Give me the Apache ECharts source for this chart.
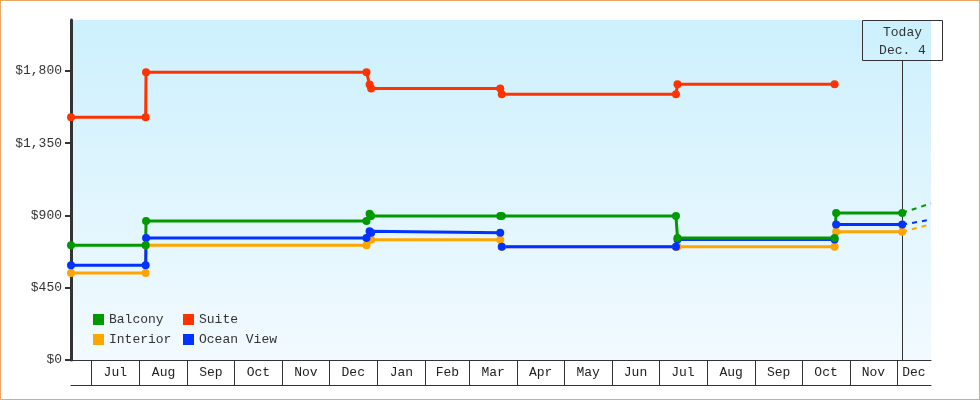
<!DOCTYPE html>
<html><head><meta charset="utf-8">
<script src="https://cdn.jsdelivr.net/npm/echarts@6/dist/echarts.min.js"></script>
<style>
html,body{margin:0;padding:0;background:#fff}
#wrap{position:relative;width:980px;height:400px}
#c{width:980px;height:400px}
#f{position:absolute;left:0;top:0;width:980px;height:400px;box-sizing:border-box;border:1px solid #eba865;pointer-events:none}
</style>
</head><body><div id="wrap"><div id="c"></div><div id="f"></div></div>
<script>
const FONT = '"Liberation Mono", monospace';

const AXIS_START = '2013-06-18';
const AXIS_END = '2014-12-23';
const TODAY = '2014-12-04 12:00';
const TODAY_LABEL = 'Today\nDec. 4';

const MONTH_STARTS = ['2013-07-01','2013-08-01','2013-09-01','2013-10-01','2013-11-01','2013-12-01',
  '2014-01-01','2014-02-01','2014-03-01','2014-04-01','2014-05-01','2014-06-01',
  '2014-07-01','2014-08-01','2014-09-01','2014-10-01','2014-11-01','2014-12-01'];
const MONTH_LABELS = ['Jul','Aug','Sep','Oct','Nov','Dec','Jan','Feb','Mar','Apr','May','Jun',
  'Jul','Aug','Sep','Oct','Nov','Dec'];

const Y_TICKS = [0, 450, 900, 1350, 1800];
const Y_MAX = 2117;

const BALCONY_DATES = ['2013-06-18','2013-08-05','2013-08-05 06:00','2013-12-25','2013-12-27','2013-12-28',
  '2014-03-21','2014-03-22','2014-07-12','2014-07-13','2014-10-22','2014-10-23','2014-12-04 12:00'];
const BALCONY_VALUES = [714, 714, 866, 866, 911, 896, 896, 896, 896, 760, 760, 916, 916];

const SUITE_DATES = ['2013-06-18','2013-08-05','2013-08-05 06:00','2013-12-25','2013-12-27','2013-12-28',
  '2014-03-21','2014-03-22','2014-07-12','2014-07-13','2014-10-22'];
const SUITE_VALUES = [1512, 1512, 1792, 1792, 1716, 1691, 1691, 1655, 1655, 1717, 1717];

const INTERIOR_DATES = ['2013-06-18','2013-08-05','2013-08-05 06:00','2013-12-25','2013-12-28',
  '2014-03-21','2014-03-22','2014-07-12','2014-07-13','2014-10-22','2014-10-23','2014-12-04 12:00'];
const INTERIOR_VALUES = [541, 541, 714, 714, 748, 748, 705, 705, 705, 705, 798, 798];

const OCEAN_DATES = ['2013-06-18','2013-08-05','2013-08-05 06:00','2013-12-25','2013-12-27','2013-12-28',
  '2014-03-21','2014-03-22','2014-07-12','2014-07-13','2014-10-22','2014-10-23','2014-12-04 12:00'];
const OCEAN_VALUES = [590, 590, 760, 760, 801, 792, 792, 705, 705, 750, 750, 843, 843];

const FORECAST_DATES = ['2014-12-04 12:00', '2014-12-23'];
const BALCONY_FORECAST = [916, 975];
const INTERIOR_FORECAST = [798, 846];
const OCEAN_FORECAST = [843, 874];

const COLORS = {Balcony:'#009900', Suite:'#ff3300', Interior:'#ffa500', 'Ocean View':'#0033ff'};

function ts(s){
  const parts = s.split(' ');
  const d = parts[0].split('-').map(Number);
  let h = 0, mi = 0;
  if (parts[1]) { const t = parts[1].split(':').map(Number); h = t[0]; mi = t[1]; }
  return new Date(d[0], d[1]-1, d[2], h, mi).getTime();
}
function pairs(dates, vals){ return dates.map((d,i)=>[ts(d), vals[i]]); }

const monthTicks = MONTH_STARTS.map(ts);
const labelCenters = MONTH_STARTS.map((s,i)=>{
  const a = ts(s);
  const b = i + 1 < MONTH_STARTS.length ? ts(MONTH_STARTS[i+1]) : ts(AXIS_END);
  return Math.round((a+b)/2);
});
function labelFor(v){
  let best = -1, bd = Infinity;
  labelCenters.forEach((c,i)=>{ const d = Math.abs(c - v); if (d < bd) { bd = d; best = i; } });
  return bd < 86400000 ? MONTH_LABELS[best] : '';
}

function lineSeries(name, dates, vals){
  const color = COLORS[name];
  return {name, type:'line', data: pairs(dates, vals), symbol:'circle', symbolSize:8,
    lineStyle:{width:3, color}, itemStyle:{color}, color, z:3, animation:false};
}
function forecastSeries(name, vals){
  const color = COLORS[name];
  return {name: name + ' forecast', type:'line', data: pairs(FORECAST_DATES, vals), symbol:'none',
    lineStyle:{width:2, color, type:[5,5]}, itemStyle:{color}, z:2, animation:false, silent:true};
}

const chart = echarts.init(document.getElementById('c'), null, {renderer:'canvas'});
const legendText = {fontFamily: FONT, fontSize: 13, color: '#333'};
chart.setOption({
  animation: false,
  grid: {left: 71, right: 49, top: 20, bottom: 40, show: true, borderWidth: 0,
    backgroundColor: new echarts.graphic.LinearGradient(0,0,0,1,[{offset:0,color:'#ccf0fd'},{offset:1,color:'#f2faff'}])},
  xAxis: [{
    type: 'value', min: ts(AXIS_START), max: ts(AXIS_END), scale: true,
    axisLine: {show:true, onZero:false, lineStyle:{color:'#333', width:1}},
    axisTick: {show:true, customValues: monthTicks, length: 25, inside:false, lineStyle:{color:'#333', width:1}},
    axisLabel: {show:true, customValues: labelCenters, margin: 6, color:'#222', fontFamily: FONT, fontSize: 13,
      formatter: v => labelFor(v)},
    splitLine: {show:false}
  }, {
    type: 'value', min: ts(AXIS_START), max: ts(AXIS_END), scale: true, position: 'bottom', offset: 25,
    axisLine: {show:true, onZero:false, lineStyle:{color:'#333', width:1}},
    axisTick: {show:false}, axisLabel: {show:false}, splitLine: {show:false}
  }],
  yAxis: {
    type: 'value', min: 0, max: Y_MAX,
    axisLine: {show:true, lineStyle:{color:'#333', width:3}},
    axisTick: {show:true, customValues: Y_TICKS, length: 6, lineStyle:{color:'#333', width:2}},
    axisLabel: {customValues: Y_TICKS, margin: 9, color:'#333', fontFamily: FONT, fontSize: 13,
      formatter: v => '$' + Number(v).toLocaleString('en-US')},
    splitLine: {show:false}
  },
  legend: [
    {orient:'vertical', left: 93, top: 313, padding: 0, itemWidth: 11, itemHeight: 11, itemGap: 7, icon: 'rect',
      selectedMode: false, data: ['Balcony', 'Interior'], textStyle: legendText},
    {orient:'vertical', left: 183, top: 313, padding: 0, itemWidth: 11, itemHeight: 11, itemGap: 7, icon: 'rect',
      selectedMode: false, data: ['Suite', 'Ocean View'], textStyle: legendText}
  ],
  series: [
    forecastSeries('Interior', INTERIOR_FORECAST),
    forecastSeries('Ocean View', OCEAN_FORECAST),
    forecastSeries('Balcony', BALCONY_FORECAST),
    lineSeries('Interior', INTERIOR_DATES, INTERIOR_VALUES),
    lineSeries('Ocean View', OCEAN_DATES, OCEAN_VALUES),
    lineSeries('Balcony', BALCONY_DATES, BALCONY_VALUES),
    lineSeries('Suite', SUITE_DATES, SUITE_VALUES)
  ]
});

const xp = Math.round(chart.convertToPixel({xAxisIndex:0}, ts(TODAY))) + 0.5;
const y0 = chart.convertToPixel({yAxisIndex:0}, 0);
const yTop = Math.round(chart.convertToPixel({yAxisIndex:0}, Y_MAX)) + 0.5;
chart.setOption({graphic: [
  {type:'rect', z: 1, shape:{x: xp - 40, y: yTop, width: 80, height: 40}, style:{fill:'none', stroke:'#333', lineWidth:1}},
  {type:'line', z: 1, shape:{x1: xp, y1: yTop + 40, x2: xp, y2: y0}, style:{stroke:'#333', lineWidth:1}},
  {type:'text', z: 1, x: xp, y: yTop + 21, style:{text: TODAY_LABEL, font: '13px "Liberation Mono"', fill:'#333',
    align:'center', verticalAlign:'middle', lineHeight: 18}}
]});
</script>
</body></html>
